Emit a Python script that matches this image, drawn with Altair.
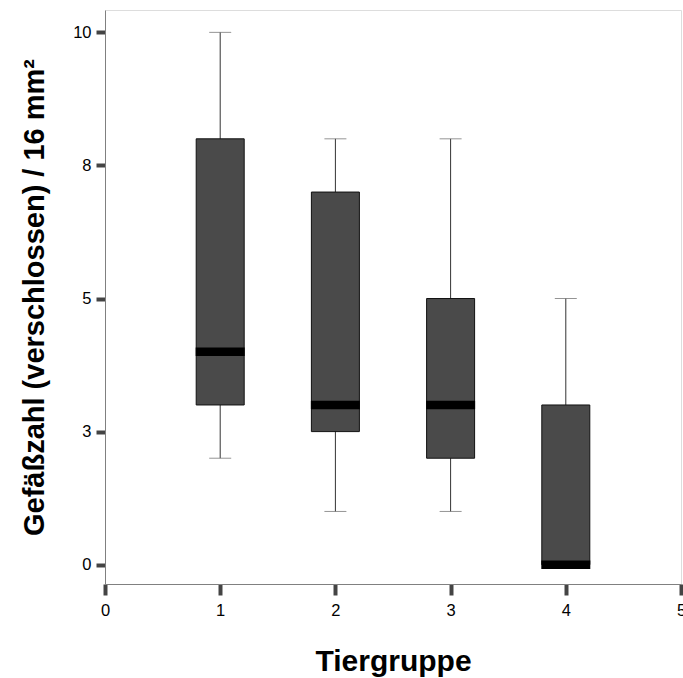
import altair as alt
import pandas as pd

groups = [1, 2, 3, 4]
lower = [2.0, 1.0, 1.0, 0.0]
q1 = [3.0, 2.5, 2.0, 0.0]
median = [4.0, 3.0, 3.0, 0.0]
q3 = [8.0, 7.0, 5.0, 3.0]
upper = [10.0, 8.0, 8.0, 5.0]

x_ticks = [0, 1, 2, 3, 4, 5]
y_ticks = [0, 2.5, 5, 7.5, 10]

df = pd.DataFrame({"group": groups, "lower": lower, "q1": q1,
                   "median": median, "q3": q3, "upper": upper})

FONT = "Liberation Sans"

xscale = alt.Scale(domain=[0, 5], nice=False, zero=False, padding=0)
yscale = alt.Scale(domain=[-0.363, 10.42], nice=False, zero=False, padding=0)

xaxis = alt.Axis(values=x_ticks, title="Tiergruppe", grid=False, format="d",
                 labelFontSize=16.5, labelPadding=7, tickSize=11, tickWidth=4,
                 tickColor="#444444", domainColor="#808080", labelColor="#000000",
                 titleFontSize=30, titleFontWeight="bold", titleColor="#000000",
                 titleY=86, titleBaseline="alphabetic", labelFlush=False,
                 labelFont=FONT, titleFont=FONT)
yaxis = alt.Axis(values=y_ticks, title="Gefäßzahl (verschlossen) / 16 mm²", grid=False,
                 labelExpr="format(round(datum.value), 'd')",
                 labelFontSize=16.5, labelPadding=5, tickSize=9, tickWidth=4,
                 tickColor="#444444", domainColor="#808080", labelColor="#000000",
                 titleFontSize=29, titleFontWeight="bold", titleColor="#000000",
                 titleX=-62, titleY=287, titleAngle=270, titleAlign="center",
                 titleBaseline="alphabetic", labelFlush=False,
                 labelFont=FONT, titleFont=FONT)

base = alt.Chart(df)

whisker = base.mark_rule(color="#333333", strokeWidth=1).encode(
    x=alt.X("group:Q", scale=xscale, axis=xaxis),
    y=alt.Y("lower:Q", scale=yscale, axis=yaxis),
    y2="upper:Q",
)
cap_lo = base.mark_tick(orient="horizontal", size=22, thickness=1, color="#666666").encode(
    x=alt.X("group:Q", scale=xscale), y=alt.Y("lower:Q", scale=yscale))
cap_hi = base.mark_tick(orient="horizontal", size=22, thickness=1, color="#666666").encode(
    x=alt.X("group:Q", scale=xscale), y=alt.Y("upper:Q", scale=yscale))
box = base.mark_bar(size=48, color="#4a4a4a", stroke="#111111", strokeWidth=1).encode(
    x=alt.X("group:Q", scale=xscale),
    y=alt.Y("q1:Q", scale=yscale),
    y2="q3:Q",
)
med = base.mark_tick(orient="horizontal", size=49, thickness=8.5, color="#000000", opacity=1).encode(
    x=alt.X("group:Q", scale=xscale), y=alt.Y("median:Q", scale=yscale))

chart = alt.layer(whisker, cap_lo, cap_hi, box, med).properties(
    width=576, height=574,
    autosize=alt.AutoSizeParams(type="none"),
    padding={"left": 105, "top": 10, "right": 2, "bottom": 94},
).configure_view(stroke="#808080", strokeWidth=1).configure(background="white")

chart.save("out.html", embed_options={"renderer": "svg", "actions": False})
